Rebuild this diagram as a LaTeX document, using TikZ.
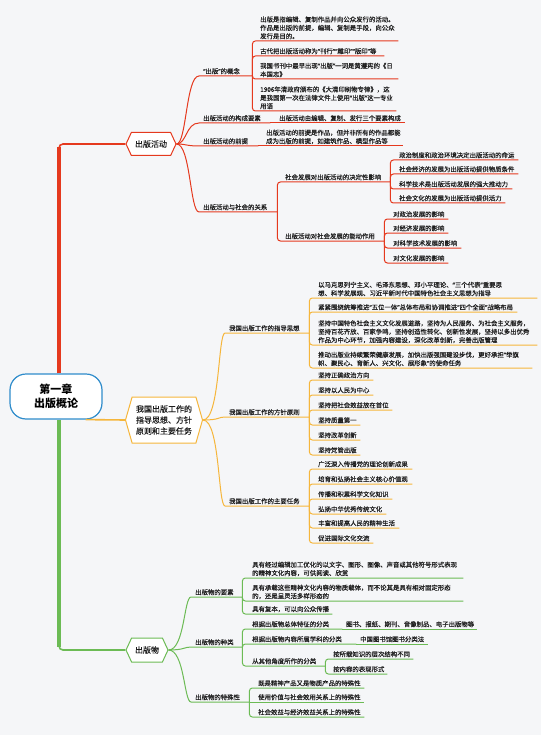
\documentclass[tikz,border=0pt]{standalone}
\usepackage{fontspec}
\setmainfont{Noto Sans CJK SC}[FakeBold=0.35]
\newfontfamily\rootfont{Noto Sans CJK SC}
\newfontfamily\qfont{Noto Sans}[FakeBold=0.35]
\newcommand\myq[1]{{\qfont “}#1{\qfont ”}}
\usetikzlibrary{shapes.symbols,calc}
\definecolor{cRed}{HTML}{E5391E}
\definecolor{cOrange}{HTML}{F5B63C}
\definecolor{cGreen}{HTML}{6CBB55}
\definecolor{cBlue}{HTML}{2F8CCB}
\definecolor{bgc}{HTML}{F5F6F8}
\definecolor{txt}{HTML}{1E1E1E}
\begin{document}
\begin{tikzpicture}[x=1pt,y=-1pt,
  leaf/.style={anchor=south west, inner xsep=4pt, inner ysep=1.6pt, align=left, text=txt, font=\fontsize{6.4}{8.4}\selectfont},
  hexa/.style={shape=signal, signal to=west and east, draw=#1, fill=white, line width=1pt, inner sep=1pt, text=txt, align=center, font=\fontsize{8}{11}\selectfont},
  rline/.style={draw=cRed, line width=1pt, rounded corners=3pt},
  oline/.style={draw=cOrange, line width=1pt, rounded corners=3pt},
  gline/.style={draw=cGreen, line width=1pt, rounded corners=3pt},
  rcurve/.style={draw=cRed, line width=1pt},
  ocurve/.style={draw=cOrange, line width=1pt},
  gcurve/.style={draw=cGreen, line width=1pt}]
\fill[bgc] (0,0) rectangle (541,735);
\useasboundingbox (0,0) rectangle (541,735);

% root and main topics
\node[draw=cBlue, fill=white, line width=1.2pt, rounded corners=16pt, minimum width=92pt, minimum height=45pt, align=center, font=\rootfont\fontsize{11}{14}\selectfont\bfseries, text=black] (root) at (56,396.5) {第一章\\出版概论};
\node[hexa=cRed, minimum width=50pt, minimum height=23pt, signal pointer angle=130] (H1) at (151,144) {出版活动};
\node[hexa=cOrange, minimum width=77pt, minimum height=46pt, signal pointer angle=148] (H2) at (164,420) {我国出版工作的\\指导思想、方针\\原则和主要任务};
\node[hexa=cGreen, minimum width=42pt, minimum height=24pt, signal pointer angle=130] (H3) at (147,650) {出版物};

\coordinate (rt) at (59,144);
\coordinate (gt) at (59,650);
\draw[cRed, line width=4pt] (rt |- root.north) -- ($(rt)+(0,3)$);
\draw[cRed, line width=1.6pt, rounded corners=4pt] ($(rt)+(0,8)$) |- (H1.west);
\draw[cGreen, line width=4pt] (gt |- root.south) -- ($(gt)+(0,-3)$);
\draw[cGreen, line width=1.6pt, rounded corners=4pt] ($(gt)+(0,-8)$) |- (H3.west);
\draw[cOrange, line width=1.6pt] ($(root.south east)+(-17,0)$) -- (H2.west);

% ---------------- red branch ----------------
\node[leaf, text width=45pt] (R1) at (199,76) {\myq{出版}的概念};
\node[leaf, text width=134pt] (R1a) at (256,41) {出版是指编辑、复制作品并向公众发行的活动。\\作品是出版的前提，编辑、复制是手段，向公众\\发行是目的。};
\node[leaf, text width=120pt] (R1b) at (256,56) {古代把出版活动称为\myq{刊行}\myq{雕印}\myq{版印}等};
\node[leaf, text width=134pt] (R1c) at (256,79) {我国书刊中最早出现\myq{出版}一词是黄遵宪的《日\\本国志》};
\node[leaf, text width=132pt] (R1d) at (256,111) {1906年清政府颁布的《大清印刷物专律》，这\\是我国第一次在法律文件上使用\myq{出版}这一专业\\用语};
\node[leaf, text width=63pt] (R2) at (199,123) {出版活动的构成要素};
\node[leaf, text width=122pt] (R2a) at (275,123) {出版活动由编辑、复制、发行三个要素构成};
\node[leaf, text width=51pt] (R3) at (199,146) {出版活动的前提};
\node[leaf, text width=133pt] (R3a) at (262,146) {出版活动的前提是作品，但并非所有的作品都能\\成为出版的前提，如建筑作品、模型作品等};
\node[leaf, text width=70pt] (R4) at (199,212) {出版活动与社会的关系};
\node[leaf, text width=101pt] (R4a) at (281,182) {社会发展对出版活动的决定性影响};
\node[leaf, text width=115pt] (R4a1) at (395,160) {政治制度和政治环境决定出版活动的命运};
\node[leaf, text width=115pt] (R4a2) at (395,174) {社会经济的发展为出版活动提供物质条件};
\node[leaf, text width=109pt] (R4a3) at (395,189) {科学技术是出版活动发展的强大推动力};
\node[leaf, text width=102pt] (R4a4) at (395,203) {社会文化的发展为出版活动提供活力};
\node[leaf, text width=95pt] (R4b) at (281,241) {出版活动对社会发展的能动作用};
\node[leaf, text width=51pt] (R4b1) at (389,219) {对政治发展的影响};
\node[leaf, text width=51pt] (R4b2) at (389,233) {对经济发展的影响};
\node[leaf, text width=64pt] (R4b3) at (389,248) {对科学技术发展的影响};
\node[leaf, text width=51pt] (R4b4) at (389,263) {对文化发展的影响};

\foreach \n in {R1,R2,R3}
  \draw[rcurve] (H1.east) .. controls +(10,0) and +(-13,0) .. (\n.south west) -- (\n.south east);
\draw[rcurve] (H1.east) .. controls +(14,0) and +(-9,0) .. (R4.south west) -- (R4.south east);
\foreach \c in {R1a,R1b,R1c,R1d}
  \draw[rline] (R1.south east) |- (\c.south east);
\draw[rline] (R2.south east) -- (R2a.south east);
\draw[rline] (R3.south east) -- (R3a.south east);
\foreach \c in {R4a,R4b}
  \draw[rline] (R4.south east) |- (\c.south east);
\foreach \c in {R4a1,R4a2,R4a3,R4a4}
  \draw[rline] (R4a.south east) |- (\c.south east);
\foreach \c in {R4b1,R4b2,R4b3,R4b4}
  \draw[rline] (R4b.south east) |- (\c.south east);

% ---------------- orange branch ----------------
\node[leaf, text width=76pt] (O1) at (225,333) {我国出版工作的指导思想};
\node[leaf, text width=215pt] (O1a) at (314,298) {以马克思列宁主义、毛泽东思想、邓小平理论、\myq{三个代表}重要思\\想、科学发展观、习近平新时代中国特色社会主义思想为指导};
\node[leaf, text width=195pt] (O1b) at (314,312) {紧紧围绕统筹推进\myq{五位一体}总体布局和协调推进\myq{四个全面}战略布局};
\node[leaf, text width=215pt] (O1c) at (314,345) {坚持中国特色社会主义文化发展道路，坚持为人民服务、为社会主义服务，\\坚持百花齐放、百家争鸣，坚持创造性转化、创新性发展，坚持以多出优秀\\作品为中心环节，加强内容建设，深化改革创新，完善出版管理};
\node[leaf, text width=210pt] (O1d) at (314,368) {推动出版业持续繁荣健康发展，加快出版强国建设步伐，更好承担{\qfont “}举旗\\帜、聚民心、育新人、兴文化、展形象{\qfont ”}的使命任务};
\node[leaf, text width=76pt] (O2) at (225,417) {我国出版工作的方针原则};
\node[leaf, text width=51pt] (O2a) at (314,380) {坚持正确政治方向};
\node[leaf, text width=51pt] (O2b) at (314,395) {坚持以人民为中心};
\node[leaf, text width=70pt] (O2c) at (314,410) {坚持把社会效益放在首位};
\node[leaf, text width=38pt] (O2d) at (314,425) {坚持质量第一};
\node[leaf, text width=38pt] (O2e) at (314,440) {坚持改革创新};
\node[leaf, text width=38pt] (O2f) at (314,455) {坚持党管出版};
\node[leaf, text width=76pt] (O3) at (225,506) {我国出版工作的主要任务};
\node[leaf, text width=90pt] (O3a) at (314,469) {广泛深入传播党的理论创新成果};
\node[leaf, text width=90pt] (O3b) at (314,484) {培育和弘扬社会主义核心价值观};
\node[leaf, text width=70pt] (O3c) at (314,499) {传播和积累科学文化知识};
\node[leaf, text width=64pt] (O3d) at (314,514) {弘扬中华优秀传统文化};
\node[leaf, text width=77pt] (O3e) at (314,528) {丰富和提高人民的精神生活};
\node[leaf, text width=51pt] (O3f) at (314,543) {促进国际文化交流};

\foreach \n in {O1,O2,O3}
  \draw[ocurve] (H2.east) .. controls +(17,0) and +(-7,0) .. (\n.south west) -- (\n.south east);
\foreach \c in {O1a,O1b,O1c,O1d}
  \draw[oline] (O1.south east) |- (\c.south east);
\foreach \c in {O2a,O2b,O2c,O2d,O2e,O2f}
  \draw[oline] (O2.south east) |- (\c.south east);
\foreach \c in {O3a,O3b,O3c,O3d,O3e,O3f}
  \draw[oline] (O3.south east) |- (\c.south east);

% ---------------- green branch ----------------
\node[leaf, text width=43pt] (G1) at (191,597) {出版物的要素};
\node[leaf, text width=207pt] (G1a) at (248,578) {具有经过编辑加工优化的以文字、图形、图像、声音或其他符号形式表现\\的精神文化内容，可供阅读、欣赏};
\node[leaf, text width=207pt] (G1b) at (248,601) {具有承载这些精神文化内容的物质载体，而不论其是具有相对固定形态\\的，还是呈灵活多样形态的};
\node[leaf, text width=76pt] (G1c) at (248,614) {具有复本，可以向公众传播};
\node[leaf, text width=43pt] (G2) at (191,647) {出版物的种类};
\node[leaf, text width=86pt] (G2a) at (248,629) {根据出版物总体特征的分类};
\node[leaf, text width=127pt] (G2a1) at (342,629) {图书、报纸、期刊、音像制品、电子出版物等};
\node[leaf, text width=100pt] (G2b) at (248,644) {根据出版物内容所属学科的分类};
\node[leaf, text width=64pt] (G2b1) at (356,644) {中国图书馆图书分类法};
\node[leaf, text width=69pt] (G2c) at (248,666) {从其他角度所作的分类};
\node[leaf, text width=76pt] (G2c1) at (329,659) {按所载知识的层次结构不同};
\node[leaf, text width=50pt] (G2c2) at (329,674) {按内容的表现形式};
\node[leaf, text width=50pt] (G3) at (191,702) {出版物的特殊性};
\node[leaf, text width=102pt] (G3a) at (254,688) {既是精神产品又是物质产品的特殊性};
\node[leaf, text width=102pt] (G3b) at (254,702) {使用价值与社会效用关系上的特殊性};
\node[leaf, text width=102pt] (G3c) at (254,717) {社会效益与经济效益关系上的特殊性};

\foreach \n in {G1,G2,G3}
  \draw[gcurve] (H3.east) .. controls +(16,0) and +(-7,0) .. (\n.south west) -- (\n.south east);
\foreach \c in {G1a,G1b,G1c}
  \draw[gline] (G1.south east) |- (\c.south east);
\foreach \c in {G2a,G2b,G2c}
  \draw[gline] (G2.south east) |- (\c.south east);
\draw[gline] (G2a.south east) -- (G2a1.south east);
\draw[gline] (G2b.south east) -- (G2b1.south east);
\foreach \c in {G2c1,G2c2}
  \draw[gline] (G2c.south east) |- (\c.south east);
\draw[gline] (G3.south east) |- (G3a.south east);
\draw[gline] (G3.south east) -- (G3b.south east);
\draw[gline] (G3.south east) |- (G3c.south east);
\end{tikzpicture}
\end{document}
